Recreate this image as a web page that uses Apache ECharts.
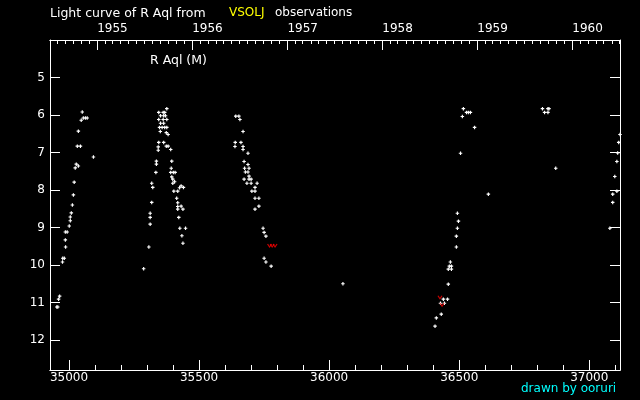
<!DOCTYPE html>
<html><head><meta charset="utf-8">
<script src="https://cdn.jsdelivr.net/npm/echarts@6/dist/echarts.min.js"></script>
<style>html,body{margin:0;padding:0;background:#000}#c{width:640px;height:400px}</style>
</head><body><div id="c"></div>
<script>
// JD - 2400000 and visual magnitude, per cycle
const cycle1JD  = [34953,34957,34960,34964,34975,34976,34982,34986,34987,34986,34993,35001,35005,35005,35009,35013,35017,35020,35024,35028,35036,35032,35044,35036,35047,35051,35055,35063,35070,35094];
const cycle1Mag = [11.12,11.12,10.91,10.83,9.92,9.82,9.82,9.33,9.52,9.12,9.12,8.96,8.82,8.72,8.61,8.40,8.13,7.79,7.41,7.31,7.36,6.83,6.83,6.43,6.14,5.92,6.08,6.08,6.08,7.12];
const cycle2JD  = [35287,35307,35312,35312,35312,35318,35318,35322,35334,35336,35336,35343,35343,35345,35345,35345,35348,35351,35352,35352,35358,35362,35362,35364,35364,35364,35368,35368,35371,35374,35374,35376,35376,35376,35381,35381,35391,35391,35393,35395,35395,35399,35399,35401,35403,35406,35408,35414,35418,35418,35418,35418,35422,35425,35426,35431,35431,35434,35438,35438,35440,35448];
const cycle2Mag = [10.10,9.52,8.62,8.73,8.91,7.82,8.33,7.93,7.53,7.23,7.31,6.85,6.94,5.93,6.12,6.73,6.33,6.44,6.02,6.22,6.33,5.93,6.12,6.02,6.22,6.73,5.93,6.33,6.02,6.47,6.83,5.83,6.12,6.33,6.52,6.83,6.92,7.53,7.42,7.23,7.65,7.71,7.82,7.53,8.03,7.78,7.53,8.22,8.03,8.34,8.44,8.51,8.73,7.94,9.02,7.89,8.43,9.22,8.51,9.42,7.93,9.02];
const cycle3JD  = [35638,35639,35641,35653,35657,35661,35669,35669,35669,35673,35673,35675,35678,35684,35688,35688,35688,35692,35692,35692,35700,35700,35703,35715,35715,35715,35715,35723,35730,35730,35746,35750,35750,35757,35757,35777,36053];
const cycle3Mag = [6.84,6.73,6.03,6.03,6.12,6.73,6.44,6.84,6.92,7.24,7.71,7.42,7.52,7.82,7.02,7.32,7.52,7.42,7.63,7.71,7.71,7.82,8.03,7.93,8.03,8.22,8.51,7.82,8.22,8.43,9.02,9.13,9.82,9.23,9.92,10.03,10.50];
const cycle4JD  = [36407,36412,36428,36431,36439,36443,36455,36458,36458,36462,36466,36470,36470,36489,36489,36493,36493,36497,36505,36512,36516,36528,36535,36543,36559,36612];
const cycle4Mag = [11.63,11.41,11.02,11.31,10.91,11.02,10.91,10.11,10.51,10.03,9.92,10.03,10.11,9.23,9.52,8.62,9.02,8.83,7.02,6.04,5.83,5.93,5.93,5.93,6.33,8.11];
const cycle5JD  = [36820,36828,36841,36841,36845,36871,37079,37090,37090,37098,37106,37106,37109,37113,37118];
const cycle5Mag = [5.83,5.93,5.83,5.93,5.83,7.42,9.02,8.11,8.33,7.64,7.24,8.03,7.01,6.73,6.52];
// fainter-than observations
const limitJD  = [35771,35781,35792,36426,36434];
const limitMag = [9.48,9.48,9.48,10.86,11.06];

// axes
const jdTicks = [35000,35500,36000,36500,37000];
const jdMinorTicks = [35000,35100,35200,35300,35400,35500,35600,35700,35800,35900,36000,36100,36200,36300,36400,36500,36600,36700,36800,36900,37000,37100];
const yearTicks = [35108.5,35473.5,35839.5,36204.5,36569.5,36934.5];
const yearLabels = ['1955','1956','1957','1958','1959','1960'];
const magTicks = [5,6,7,8,9,10,11,12];
const jdMin = 34927, jdMax = 37118;

// month-start ticks for the top axis (JD - 2400000)
const monthTicks = [];
for (let y = 1954; y <= 1960; y++) for (let m = 0; m < 12; m++) {
  const v = Date.UTC(y, m, 1) / 86400000 + 40587 + 0.5;
  if (v > jdMin && v < jdMax) monthTicks.push(v);
}

const pts = (a, b) => a.map((v, i) => [v, b[i]]);
const obs = [].concat(pts(cycle1JD, cycle1Mag), pts(cycle2JD, cycle2Mag), pts(cycle3JD, cycle3Mag), pts(cycle4JD, cycle4Mag), pts(cycle5JD, cycle5Mag));
const lim = pts(limitJD, limitMag);

const FONT = 'DejaVu Sans';
const W = '#ffffff';
const baseX = {type:'value', min:jdMin, max:jdMax, splitLine:{show:false}, axisLine:{lineStyle:{color:W,width:1}}};

const chart = echarts.init(document.getElementById('c'), null, {renderer:'canvas'});
chart.setOption({
  backgroundColor:'#000000',
  animation:false,
  grid:{left:50, top:40, width:570, height:330, containLabel:false},
  graphic:[
    {type:'text', left:50, top:7, style:{text:'Light curve of R Aql from', fill:W, font:'12.5px "'+FONT+'"'}},
    {type:'text', left:229, top:7, style:{text:'VSOLJ', fill:'#ffff00', font:'12px "'+FONT+'"'}},
    {type:'text', left:275, top:7, style:{text:'observations', fill:W, font:'12px "'+FONT+'"'}},
    {type:'text', left:150, top:54, style:{text:'R Aql (M)', fill:W, font:'12.5px "'+FONT+'"'}},
    {type:'text', left:521, top:383, style:{text:'drawn by ooruri', fill:'#00ffff', font:'12px "'+FONT+'"'}}
  ],
  xAxis:[
    Object.assign({}, baseX, {position:'bottom',
      axisTick:{inside:true, length:10, customValues:jdTicks, lineStyle:{color:W}},
      axisLabel:{customValues:jdTicks, color:W, fontFamily:FONT, fontSize:12, margin:2, formatter:v => String(v)}}),
    Object.assign({}, baseX, {position:'bottom',
      axisTick:{inside:true, length:5, customValues:jdMinorTicks, lineStyle:{color:W}},
      axisLabel:{show:false}}),
    Object.assign({}, baseX, {position:'top',
      axisTick:{inside:true, length:10, customValues:yearTicks, lineStyle:{color:W}},
      axisLabel:{customValues:yearTicks, color:W, fontFamily:FONT, fontSize:12, margin:5, align:'left',
        formatter:v => { const i = yearTicks.indexOf(v); return i >= 0 ? yearLabels[i] : ''; }}}),
    Object.assign({}, baseX, {position:'top',
      axisTick:{inside:true, length:4, customValues:monthTicks, lineStyle:{color:W}},
      axisLabel:{show:false}})
  ],
  yAxis:[
    {type:'value', position:'left', inverse:true, min:4, max:12.8, splitLine:{show:false},
      axisLine:{lineStyle:{color:W}},
      axisTick:{inside:true, length:10, customValues:magTicks, lineStyle:{color:W}},
      axisLabel:{customValues:magTicks, color:W, fontFamily:FONT, fontSize:12, margin:5}},
    {type:'value', position:'right', inverse:true, min:4, max:12.8, splitLine:{show:false},
      axisLine:{lineStyle:{color:W}},
      axisTick:{inside:true, length:10, customValues:magTicks, lineStyle:{color:W}},
      axisLabel:{show:false}}
  ],
  series:[
    {type:'scatter', xAxisIndex:0, yAxisIndex:0, data:obs,
      symbol:'path://M1 0H2V1H3V2H2V3H1V2H0V1H1Z', symbolSize:3.5,
      itemStyle:{color:W, opacity:1}},
    {type:'scatter', xAxisIndex:0, yAxisIndex:0, data:lim,
      symbol:'path://M0 0L2 3L4 0', symbolSize:[4,3],
      itemStyle:{color:'transparent', borderColor:'#ff0000', borderWidth:1}}
  ]
});
</script></body></html>
